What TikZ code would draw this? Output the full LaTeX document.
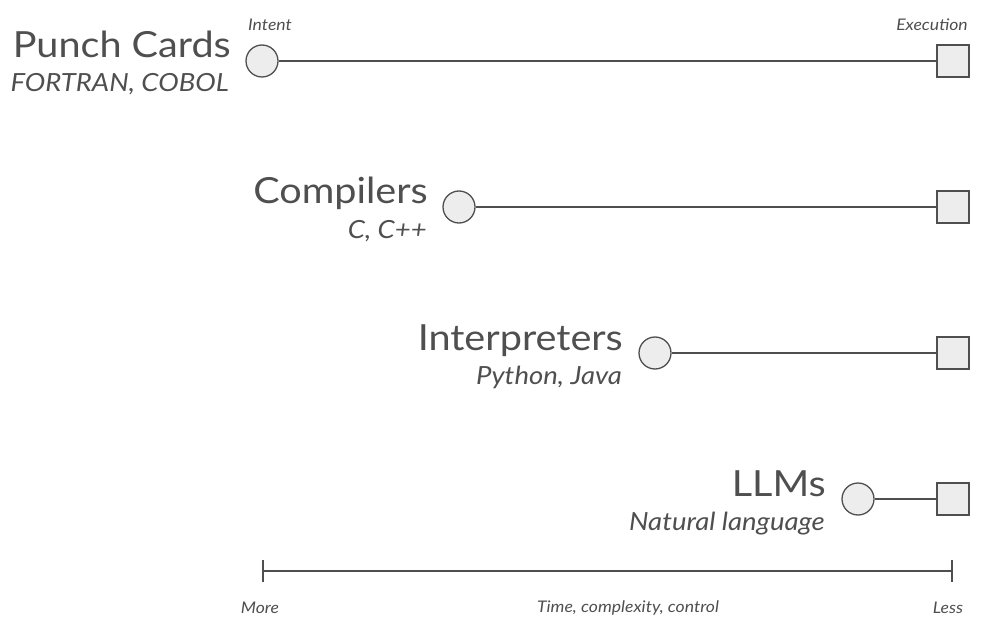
\documentclass[tikz,border=0pt]{standalone}
\usepackage{fontspec}
\setmainfont{Lato}[FakeStretch=1.1]
\usetikzlibrary{arrows.meta}
\definecolor{ink}{HTML}{4F4F4F}
\definecolor{shade}{HTML}{EDEDED}
\begin{document}
\begin{tikzpicture}[
    x=1pt,y=-1pt,
    intent/.style={circle,draw=ink,fill=shade,line width=1.3pt,minimum size=32pt,inner sep=0pt},
    exec/.style={rectangle,draw=ink,fill=shade,line width=1.3pt,minimum size=32pt,inner sep=0pt},
    title/.style={anchor=base east,text=ink,font=\fontsize{36}{40}\selectfont,inner sep=0pt},
    sub/.style={anchor=base east,text=ink,font=\itshape\fontsize{25}{28}\selectfont,inner sep=0pt},
    small/.style={text=ink,font=\itshape\fontsize{16}{18}\selectfont,inner sep=0pt},
    wire/.style={draw=ink,line width=1.3pt}
]
\useasboundingbox (0,0) rectangle (984,636);

\node[intent] (I1) at (262,61)  {};
\node[intent] (I2) at (459,207) {};
\node[intent] (I3) at (655,353) {};
\node[intent] (I4) at (858,499) {};
\node[exec]   (E1) at (953,61)  {};
\node[exec]   (E2) at (953,207) {};
\node[exec]   (E3) at (953,353) {};
\node[exec]   (E4) at (953,499) {};

\node[title] (T1) at (231,58)  {Punch Cards};
\node[sub]   (S1) at (229,92)  {FORTRAN, COBOL};
\node[title] (T2) at (428,204) {Compilers};
\node[sub]   (S2) at (427,238) {C, C++};
\node[title] (T3) at (623,350) {Interpreters};
\node[sub]   (S3) at (622,384) {Python, Java};
\node[title] (T4) at (826,496) {LLMs};
\node[sub]   (S4) at (825,530) {Natural language};

\node[small] (In) at (270,25) {Intent};
\node[small] (Ex) at (932,25) {Execution};

\draw[wire] (I1) -- (E1);
\draw[wire] (I2) -- (E2);
\draw[wire] (I3) -- (E3);
\draw[wire] (I4) -- (E4);

% axis
\coordinate (M) at (262,571);
\coordinate (L) at (953,571);
\draw[wire,{Bar[width=22pt,line width=2pt]}-{Bar[width=22pt,line width=2pt]}] (M) -- (L);
\node[small] (More) at (260,608) {More};
\node[small] (Axis) at (628,608) {Time, complexity, control};
\node[small] (Less) at (948,608) {Less};
\end{tikzpicture}
\end{document}
